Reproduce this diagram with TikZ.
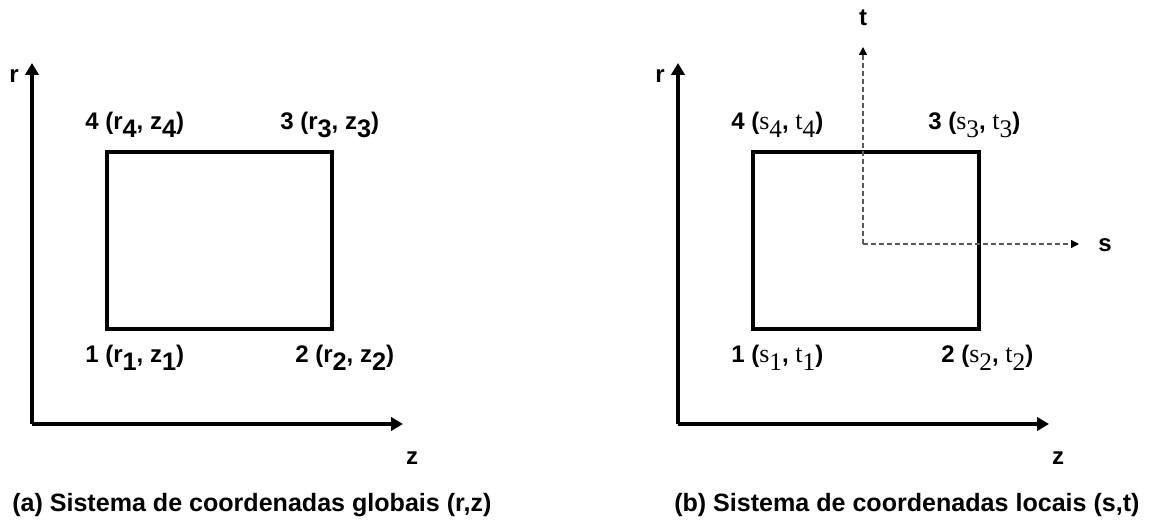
\documentclass[tikz,border=0pt]{standalone}
\usepackage{fontspec}
\setmainfont{Liberation Sans}
\newfontfamily\stfont{Liberation Serif}
\usetikzlibrary{arrows.meta,positioning}
\newcommand{\sbs}[1]{\raisebox{-0.3em}{\fontsize{19}{20}\selectfont #1}}
\newcommand{\sv}[2]{{\stfont\mdseries\fontsize{19.5}{20}\selectfont #1\sbs{#2}}}

\begin{document}
\begin{tikzpicture}[x=0.75pt, y=-0.75pt, font=\fontsize{18}{20}\selectfont\bfseries,
    axis/.style={line width=2.8pt, -{Triangle[length=9pt,width=10pt]}},
    dashaxis/.style={line width=1pt, draw=black!65, dash pattern=on 3.7pt off 2.3pt, -{Triangle[length=6pt,width=6pt,color=black]}},
    elem/.style={line width=2.4pt, line join=miter},
    lbl/.style={inner sep=0pt, anchor=base west},
    caption/.style={inner sep=0pt, anchor=base west, font=\fontsize{18.8}{20}\selectfont\bfseries}]
  \useasboundingbox (0,0) rectangle (1153,523);

  % (a) global system
  \coordinate (oa) at (32,424);
  \coordinate (ra) at (32,63);
  \coordinate (za) at (403,424);
  \draw[axis] (oa) -- (ra);
  \draw[axis] (oa) -- (za);
  \node (rlbla) at (14,76) {r};
  \node[lbl, anchor=base] (zlbla) at (412,465) {z};

  \coordinate (n1a) at (107,329);
  \coordinate (n2a) at (332,329);
  \coordinate (n3a) at (332,152);
  \coordinate (n4a) at (107,152);
  \draw[elem] (n1a) -- (n2a) -- (n3a) -- (n4a) -- cycle;
  \node[lbl] (p4a) at (85,130) {4 (r\sbs{4}, z\sbs{4})};
  \node[lbl] (p3a) at (280,130) {3 (r\sbs{3}, z\sbs{3})};
  \node[lbl] (p1a) at (85,363) {1 (r\sbs{1}, z\sbs{1})};
  \node[lbl] (p2a) at (295,363) {2 (r\sbs{2}, z\sbs{2})};

  \node[caption] (capa) at (12,512) {(a) Sistema de coordenadas globais (r,z)};

  % (b) local system
  \coordinate (ob) at (678,424);
  \coordinate (rb) at (678,63);
  \coordinate (zb) at (1049,424);
  \draw[axis] (ob) -- (rb);
  \draw[axis] (ob) -- (zb);
  \node (rlblb) at (660,76) {r};
  \node[lbl, anchor=base] (zlblb) at (1058,465) {z};

  \coordinate (n1b) at (753,329);
  \coordinate (n2b) at (979,329);
  \coordinate (n3b) at (979,152);
  \coordinate (n4b) at (753,152);
  \draw[elem] (n1b) -- (n2b) -- (n3b) -- (n4b) -- cycle;

  \coordinate (os) at (863,244);
  \coordinate (tt) at (863,47);
  \coordinate (ss) at (1079,244);
  \draw[dashaxis] (os) -- (tt);
  \draw[dashaxis] (os) -- (ss);
  \node (tlbl) at (863,18) {t};
  \node (slbl) at (1105,245) {s};

  \node[lbl] (p4b) at (731,130) {4 (\sv{s}{4}, \sv{t}{4})};
  \node[lbl] (p3b) at (928,130) {3 (\sv{s}{3}, \sv{t}{3})};
  \node[lbl] (p1b) at (731,363) {1 (\sv{s}{1}, \sv{t}{1})};
  \node[lbl] (p2b) at (941,363) {2 (\sv{s}{2}, \sv{t}{2})};

  \node[caption] (capb) at (674,512) {(b) Sistema de coordenadas locais (s,t)};
\end{tikzpicture}
\end{document}
